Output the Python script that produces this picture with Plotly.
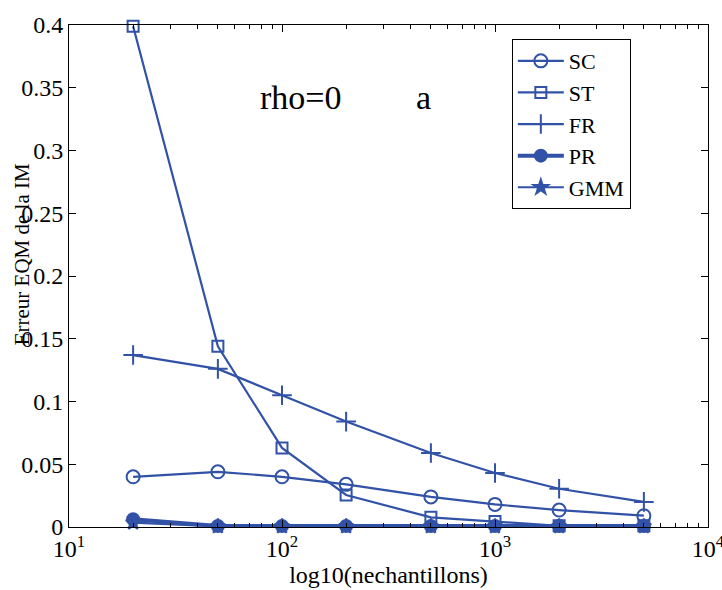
import plotly.graph_objects as go

# Sample sizes (log-scaled x axis)
n_samples = [20, 50, 100, 200, 500, 1000, 2000, 5000]

# Mean squared error of the mutual information estimate, per estimator
err_sc = [0.040, 0.044, 0.040, 0.034, 0.024, 0.018, 0.0135, 0.009]
err_st = [0.399, 0.144, 0.063, 0.0255, 0.0077, 0.0043, 0.001, 0.001]
err_fr = [0.137, 0.126, 0.105, 0.084, 0.059, 0.043, 0.0305, 0.020]
err_pr = [0.0062, 0.0008, 0.0008, 0.0008, 0.0008, 0.0008, 0.0008, 0.0008]
err_gmm = [0.0035, 0.0005, 0.0005, 0.0005, 0.0005, 0.0005, 0.0005, 0.0005]

y_ticks = [0, 0.05, 0.1, 0.15, 0.2, 0.25, 0.3, 0.35, 0.4]
y_ticktext = ["0", "0.05", "0.1", "0.15", "0.2", "0.25", "0.3", "0.35", "0.4"]
x_ticks = [10, 100, 1000, 10000]
x_ticktext = ["10<sup>1</sup>", "10<sup>2</sup>", "10<sup>3</sup>", "10<sup>4</sup>"]
x_minor = [m * 10 ** k for k in (1, 2, 3) for m in range(2, 10)]

BLUE = "#3152A6"
FONT = "Liberation Serif, Times New Roman, serif"

fig = go.Figure()

series = [
    ("SC", err_sc, "circle-open", 13, 2.2),
    ("ST", err_st, "square-open", 11, 2.2),
    ("FR", err_fr, "cross-thin-open", 14, 2.2),
    ("PR", err_pr, "circle", 12, 4.0),
    ("GMM", err_gmm, "star", 11, 2.2),
]

for name, vals, sym, size, lw in series:
    fig.add_trace(go.Scatter(
        x=n_samples, y=vals, name=name, mode="lines+markers",
        line=dict(color=BLUE, width=lw),
        marker=dict(symbol=sym, size=size, color=BLUE,
                    line=dict(color=BLUE, width=2)),
        cliponaxis=False,
    ))

fig.add_annotation(x=2.089, y=0.3426, xref="x", yref="y", text="rho=0",
                   showarrow=False, font=dict(family=FONT, size=34, color="black"))
fig.add_annotation(x=2.662, y=0.3426, xref="x", yref="y", text="a",
                   showarrow=False, font=dict(family=FONT, size=34, color="black"))
fig.add_annotation(x=-0.073, y=0.544, xref="paper", yref="paper",
                   xanchor="center", yanchor="middle",
                   text="Erreur EQM de la IM", textangle=-90, showarrow=False,
                   font=dict(family=FONT, size=21, color="black"))

fig.update_layout(
    width=722, height=590,
    margin=dict(l=69, r=14, t=25, b=63, autoexpand=False),
    paper_bgcolor="white", plot_bgcolor="white",
    font=dict(family=FONT, size=24, color="black"),
    showlegend=True,
    legend=dict(
        x=0.693, y=0.972, xanchor="left", yanchor="top",
        bgcolor="white", bordercolor="black", borderwidth=1,
        font=dict(family=FONT, size=22, color="black"),
        tracegroupgap=0, itemwidth=46,
    ),
    xaxis=dict(
        type="log", range=[1, 4], automargin=False,
        tickvals=x_ticks, ticktext=x_ticktext, ticklabeloverflow="allow",
        ticks="inside", ticklen=7, tickcolor="black",
        minor=dict(tickvals=x_minor, ticks="inside", ticklen=4, tickcolor="black"),
        showline=True, linecolor="black", linewidth=1, mirror="ticks",
        showgrid=False, zeroline=False,
        title=dict(text="log10(nechantillons)", standoff=2,
                   font=dict(family=FONT, size=24, color="black")),
        tickfont=dict(family=FONT, size=24, color="black"),
    ),
    yaxis=dict(
        range=[0, 0.4], automargin=False,
        tickvals=y_ticks, ticktext=y_ticktext,
        ticks="inside", ticklen=7, tickcolor="black",
        showline=True, linecolor="black", linewidth=1, mirror="ticks",
        showgrid=False, zeroline=False,
        tickfont=dict(family=FONT, size=24, color="black"),
    ),
)

fig.write_html("out.html")
